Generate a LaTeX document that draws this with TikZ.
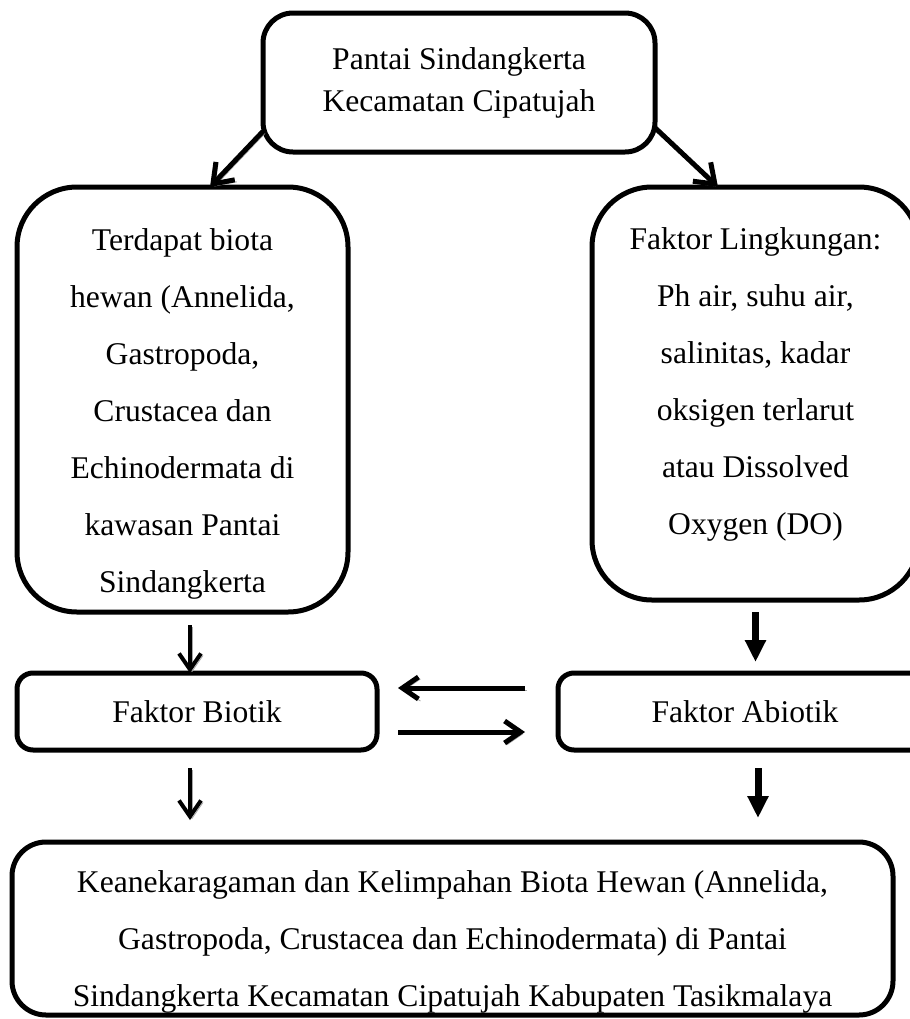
\documentclass[tikz,border=0pt]{standalone}
\usepackage{fontspec}
\setmainfont{Liberation Serif}
\usetikzlibrary{arrows.meta}
\newcommand{\isikotak}[4]{\parbox[c][#1][c]{#2}{\centering\vspace*{#3}#4}}

\begin{document}
\begin{tikzpicture}[x=0.5pt, y=-0.5pt,
    kotak/.style={draw, line width=2.5pt, rounded corners=#1, align=center,
        anchor=north west, inner sep=0pt, outer sep=0pt,
        font=\fontsize{15.8}{28.5}\selectfont},
    kotak/.default=8pt,
    bayang/.style={preaction={draw=black!35, transform canvas={shift={(1pt,-1pt)}}}},
    panah/.style={bayang, line width=2pt, -{Straight Barb[length=8pt,width=11pt]}},
    panahtebal/.style={line width=3.5pt, -{Triangle[length=11pt,width=10pt]}}]
    \useasboundingbox (0,0) rectangle (910,1019);
    \clip (0,0) rectangle (910,1019);
    \node[kotak=15pt, minimum width=196pt, minimum height=69.5pt,
        font=\fontsize{15.8}{21}\selectfont] (lokasi) at (263,13)
        {Pantai Sindangkerta\\Kecamatan Cipatujah};
    \node[kotak=30pt] (biota) at (17,187)
        {\isikotak{212.5pt}{165.5pt}{14pt}{Terdapat biota\\hewan (Annelida,\\Gastropoda,\\Crustacea dan\\Echinodermata di\\kawasan Pantai\\Sindangkerta}};
    \node[kotak=30pt] (lingkungan) at (592,187)
        {\isikotak{206.5pt}{163.5pt}{-9pt}{Faktor Lingkungan:\\Ph air, suhu air,\\salinitas, kadar\\oksigen terlarut\\atau Dissolved\\Oxygen (DO)}};
    \node[kotak, minimum width=180pt, minimum height=38.5pt] (biotik) at (17,673) {Faktor Biotik};
    \node[kotak, minimum width=187pt, minimum height=38.5pt] (abiotik) at (558,673) {Faktor Abiotik};
    \node[kotak=17pt] (hasil) at (12,842)
        {\isikotak{86.5pt}{440.5pt}{13pt}{Keanekaragaman dan Kelimpahan Biota Hewan (Annelida,\\Gastropoda, Crustacea dan Echinodermata) di Pantai\\Sindangkerta Kecamatan Cipatujah Kabupaten Tasikmalaya}};

    \draw[panah, line width=2.5pt, -{Straight Barb[length=9pt,width=13pt]}] (lokasi.194) -- ([xshift=13.75pt]biota.north);
    \draw[panah, line width=2.5pt, -{Straight Barb[length=9pt,width=13pt]}] (lokasi.-13) -- ([xshift=-18.75pt]lingkungan.north);

    \coordinate (b1) at ([xshift=3.75pt]biota.south);
    \draw[panah, shorten <=6.5pt] (b1) -- (b1 |- biotik.north);
    \draw[panahtebal, shorten <=6pt, shorten >=5.5pt] (lingkungan.south) -- (lingkungan.south |- abiotik.north);

    \draw[panah, line width=2.5pt, shorten <=16.5pt, shorten >=10.5pt] ([yshift=11.75pt]abiotik.west) -- ([yshift=11.75pt]biotik.east);
    \draw[panah, line width=2.5pt, shorten <=10.5pt, shorten >=16.5pt] ([yshift=-10.25pt]biotik.east) -- ([yshift=-10.25pt]abiotik.west);

    \coordinate (b2) at ([xshift=-3.5pt]biotik.south);
    \draw[panah, shorten <=9pt, shorten >=11pt] (b2) -- (b2 |- hasil.north);
    \coordinate (a2) at ([xshift=6.5pt]abiotik.south);
    \draw[panahtebal, shorten <=9pt, shorten >=12pt] (a2) -- (a2 |- hasil.north);
\end{tikzpicture}
\end{document}
